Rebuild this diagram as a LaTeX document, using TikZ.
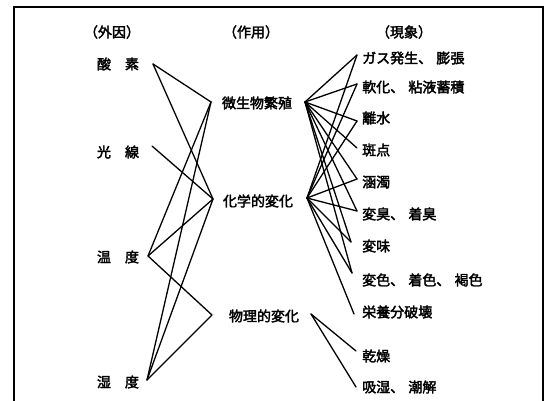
\documentclass[tikz,border=0pt]{standalone}
\usepackage{fontspec}
\newfontfamily\jp[FakeBold=2.5]{Noto Sans CJK JP}
\begin{document}
\begin{tikzpicture}[x=1pt,y=-1pt,
  lbl/.style={font=\jp\fontsize{14}{16}\selectfont, inner sep=0pt},
  rlbl/.style={lbl, anchor=west},
  conn/.style={line width=1.3pt, line join=round, line cap=round},
  frame/.style={line width=1.6pt}]
\useasboundingbox (0,0) rectangle (549,401);
\draw[frame] (14,401) -- (14,7) -- (543,7) -- (543,401);

% headers
\node[lbl] (gai) at (112,32) {（外因）};
\node[lbl] (sayo) at (251,32) {（作用）};
\node[lbl] (gen) at (404,32) {（現象）};

% left column
\node[lbl] (sanso) at (118,64) {酸\hspace{1em}素};
\node[lbl] (kosen) at (118,152) {光\hspace{1em}線};
\node[lbl] (ondo) at (118,257) {温\hspace{1em}度};
\node[lbl] (shitsudo) at (118,382) {湿\hspace{1em}度};

% middle column
\node[lbl] (bi) at (257,103) {微生物繁殖};
\node[lbl] (ka) at (258,201) {化学的変化};
\node[lbl] (bu) at (264,316) {物理的変化};

% right column
\node[rlbl] (r1) at (362,58) {ガス発生、\hspace{0.3em}膨張};
\node[rlbl] (r2) at (362,87) {軟化、\hspace{0.3em}粘液蓄積};
\node[rlbl] (r3) at (362,118) {離水};
\node[rlbl] (r4) at (362,150) {斑点};
\node[rlbl] (r5) at (362,182) {涵濁};
\node[rlbl] (r6) at (362,214) {変臭、\hspace{0.3em}着臭};
\node[rlbl] (r7) at (362,246) {変味};
\node[rlbl] (r8) at (362,280) {変色、\hspace{0.3em}着色、\hspace{0.3em}褐色};
\node[rlbl] (r9) at (362,312) {栄養分破壊};
\node[rlbl] (r10) at (362,356) {乾燥};
\node[rlbl] (r11) at (362,387) {吸湿、\hspace{0.3em}潮解};

% connector ends
\coordinate (sanso-p) at (153,64);
\coordinate (kosen-p) at (152,146);
\coordinate (ondo-p) at (148,256);
\coordinate (shitsudo-p) at (147,380);
\coordinate (bi-l) at (211,102);
\coordinate (bi-r) at (305,102);
\coordinate (ka-l) at (213,199);
\coordinate (ka-r) at (307,198);
\coordinate (bu-l) at (212,315);
\coordinate (bu-r) at (311,314);
\coordinate (p1) at (357,55);
\coordinate (p2) at (357,84);
\coordinate (p3) at (357,121);
\coordinate (p4) at (357,148);
\coordinate (p5) at (357,179);
\coordinate (p6) at (357,211);
\coordinate (p7) at (351,242);
\coordinate (p8) at (352,273);
\coordinate (p9) at (354,314);
\coordinate (p10) at (356,351);
\coordinate (p11) at (356,387);

% left connectors
\draw[conn] (sanso-p) -- (bi-l);
\draw[conn] (sanso-p) -- (ka-l);
\draw[conn] (kosen-p) -- (ka-l);
\draw[conn] (ondo-p) -- (bi-l);
\draw[conn] (ondo-p) -- (ka-l);
\draw[conn] (ondo-p) -- (bu-l);
\draw[conn] (shitsudo-p) -- (bi-l);
\draw[conn] (shitsudo-p) -- (ka-l);
\draw[conn] (shitsudo-p) -- (bu-l);

% right connectors: microbes
\foreach \t in {p1,p2,p3,p4,p5,p6,p7,p8}
  \draw[conn] (bi-r) -- (\t);
% chemical
\foreach \t in {p1,p2,p3,p5,p6,p7,p8,p9}
  \draw[conn] (ka-r) -- (\t);
% physical
\draw[conn] (bu-r) -- (p10);
\draw[conn] (bu-r) -- (p11);
\end{tikzpicture}
\end{document}
